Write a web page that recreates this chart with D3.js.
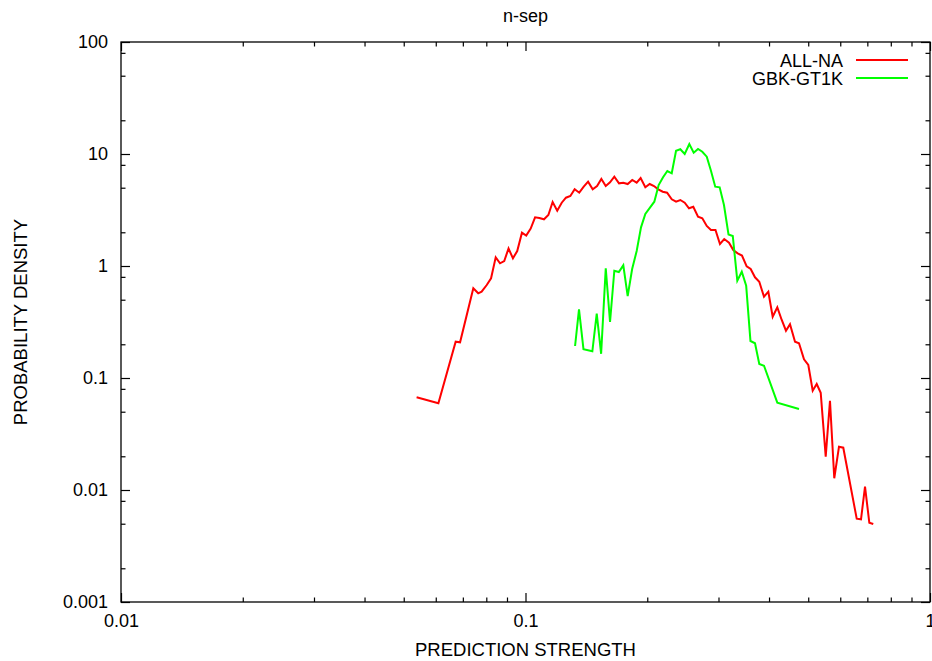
<!DOCTYPE html>
<html>
<head>
<meta charset="utf-8">
<script src="https://cdn.jsdelivr.net/npm/d3@7"></script>
<style>
  body { margin: 0; background: #fff; }
  svg { display: block; }
  text { font-family: "Liberation Sans", Arial, Helvetica, sans-serif; font-size: 18px; fill: #000; }
</style>
</head>
<body>
<div id="chart"></div>
<script>
const chartTitle = 'n-sep';
const xAxisTitle = 'PREDICTION STRENGTH';
const yAxisTitle = 'PROBABILITY DENSITY';

const xTickValues = [0.01, 0.1, 1];
const xTickLabels = ['0.01', '0.1', '1'];
const yTickValues = [0.001, 0.01, 0.1, 1, 10, 100];
const yTickLabels = ['0.001', '0.01', '0.1', '1', '10', '100'];
const xMinorTicks = [0.02, 0.03, 0.04, 0.05, 0.06, 0.07, 0.08, 0.09,
                     0.2, 0.3, 0.4, 0.5, 0.6, 0.7, 0.8, 0.9];
const yMinorTicks = [0.002, 0.005, 0.008, 0.02, 0.05, 0.08, 0.2, 0.5, 0.8,
                     2, 5, 8, 20, 50, 80];

const seriesNames = ['ALL-NA', 'GBK-GT1K'];

// [prediction strength, density]
const allNa = [
  [0.0538, 0.0672], [0.0609, 0.0594], [0.0672, 0.2109], [0.0689, 0.2083],
  [0.0743, 0.6324], [0.0764, 0.5704], [0.0779, 0.5894], [0.0802, 0.6767],
  [0.0822, 0.7767], [0.0844, 1.196], [0.0865, 1.057], [0.0886, 1.108],
  [0.0908, 1.433], [0.0931, 1.171], [0.0954, 1.361], [0.0980, 1.983],
  [0.1004, 1.872], [0.1030, 2.161], [0.1056, 2.721], [0.1082, 2.683],
  [0.1111, 2.612], [0.1139, 2.853], [0.1167, 3.727], [0.1198, 3.116],
  [0.1229, 3.674], [0.1259, 4.072], [0.1291, 4.217], [0.1323, 4.839],
  [0.1358, 4.512], [0.1393, 5.105], [0.1428, 5.657], [0.1466, 4.839],
  [0.1503, 5.179], [0.1540, 5.981], [0.1579, 5.179], [0.1618, 5.587],
  [0.1658, 6.270], [0.1703, 5.474], [0.1745, 5.541], [0.1789, 5.395],
  [0.1836, 5.860], [0.1883, 5.541], [0.1926, 6.105], [0.1978, 5.043],
  [0.2028, 5.395], [0.2078, 5.179], [0.2129, 4.839], [0.2184, 4.606],
  [0.2239, 4.512], [0.2299, 3.940], [0.2356, 3.751], [0.2414, 3.884],
  [0.2475, 3.674], [0.2536, 3.275], [0.2599, 3.384], [0.2670, 2.755],
  [0.2736, 2.667], [0.2806, 2.276], [0.2874, 2.096], [0.2949, 2.096],
  [0.3025, 1.572], [0.3100, 1.742], [0.3185, 1.614], [0.3263, 1.389],
  [0.3346, 1.298], [0.3429, 1.241], [0.3522, 0.994], [0.3603, 0.940],
  [0.3693, 0.7926], [0.3784, 0.7243], [0.3887, 0.5318], [0.3984, 0.5894],
  [0.4084, 0.3526], [0.4193, 0.4277], [0.4300, 0.3296], [0.4405, 0.2645],
  [0.4507, 0.3017], [0.4638, 0.2109], [0.4744, 0.2041], [0.4881, 0.1469],
  [0.5002, 0.1306], [0.5129, 0.0770], [0.5247, 0.0884], [0.5368, 0.0739],
  [0.5523, 0.01983], [0.5659, 0.0627], [0.5799, 0.01273], [0.5957, 0.02435],
  [0.6104, 0.02386], [0.6589, 0.005543], [0.6752, 0.005476], [0.6908, 0.01070],
  [0.7079, 0.005105], [0.7240, 0.004970]
];

const gbkGt1k = [
  [0.1326, 0.1931], [0.1356, 0.4105], [0.1391, 0.1808], [0.1463, 0.1731],
  [0.1500, 0.3751], [0.1538, 0.1645], [0.1579, 0.9539], [0.1618, 0.3162],
  [0.1658, 0.9078], [0.1701, 0.8839], [0.1745, 1.014], [0.1789, 0.5395],
  [0.1835, 0.9401], [0.1883, 1.361], [0.1930, 2.215], [0.1978, 2.913],
  [0.2031, 3.315], [0.2082, 3.751], [0.2134, 5.286], [0.2188, 6.194],
  [0.2242, 7.050], [0.2299, 6.725], [0.2356, 10.70], [0.2414, 11.02],
  [0.2475, 10.00], [0.2541, 12.28], [0.2605, 10.27], [0.2670, 11.08],
  [0.2736, 10.48], [0.2806, 9.46], [0.2874, 7.094], [0.2945, 5.105],
  [0.3020, 5.043], [0.3095, 3.504], [0.3176, 1.911], [0.3254, 1.853],
  [0.3339, 0.7393], [0.3425, 0.8893], [0.3512, 0.6656], [0.3599, 0.2140],
  [0.3693, 0.2041], [0.3784, 0.1334], [0.3887, 0.1288], [0.4193, 0.0602],
  [0.4744, 0.0529]
];

const width = 932;
const height = 661;
const margin = { top: 42, right: 2, bottom: 59, left: 121 };
const plotW = width - margin.left - margin.right;
const plotH = height - margin.top - margin.bottom;

const svg = d3.select('#chart').append('svg')
    .attr('width', width)
    .attr('height', height);

const x = d3.scaleLog().domain([0.01, 1]).range([0, plotW]);
const y = d3.scaleLog().domain([0.001, 100]).range([plotH, 0]);

const g = svg.append('g')
    .attr('transform', `translate(${margin.left},${margin.top})`);

// major ticks with labels (bottom, left), mirrored on top/right
g.append('g')
    .attr('transform', `translate(0,${plotH})`)
    .call(d3.axisBottom(x).tickValues(xTickValues)
        .tickFormat((d, i) => xTickLabels[i]).tickSize(-9).tickSizeOuter(0).tickPadding(12));
g.append('g')
    .call(d3.axisLeft(y).tickValues(yTickValues)
        .tickFormat((d, i) => yTickLabels[i]).tickSize(-9).tickSizeOuter(0).tickPadding(13));
g.append('g')
    .call(d3.axisTop(x).tickValues(xTickValues).tickFormat('').tickSize(-9).tickSizeOuter(0));
g.append('g')
    .attr('transform', `translate(${plotW},0)`)
    .call(d3.axisRight(y).tickValues(yTickValues).tickFormat('').tickSize(-9).tickSizeOuter(0));

// minor ticks
g.append('g')
    .attr('transform', `translate(0,${plotH})`)
    .call(d3.axisBottom(x).tickValues(xMinorTicks).tickFormat('').tickSize(-4.5).tickSizeOuter(0));
g.append('g')
    .call(d3.axisTop(x).tickValues(xMinorTicks).tickFormat('').tickSize(-4.5).tickSizeOuter(0));
g.append('g')
    .call(d3.axisLeft(y).tickValues(yMinorTicks).tickFormat('').tickSize(-4.5).tickSizeOuter(0));
g.append('g')
    .attr('transform', `translate(${plotW},0)`)
    .call(d3.axisRight(y).tickValues(yMinorTicks).tickFormat('').tickSize(-4.5).tickSizeOuter(0));

g.selectAll('.domain').remove();
g.selectAll('.tick line').attr('stroke', '#000').attr('stroke-width', 1.2);
g.selectAll('.tick text')
    .style('font-family', '"Liberation Sans", Arial, Helvetica, sans-serif')
    .style('font-size', '18px')
    .attr('fill', '#000');

g.append('rect')
    .attr('width', plotW)
    .attr('height', plotH)
    .attr('fill', 'none')
    .attr('stroke', '#000')
    .attr('stroke-width', 1.3);

// series
const line = d3.line()
    .x(d => x(d[0]))
    .y(d => y(d[1]));

const series = [
  { name: seriesNames[0], values: allNa, color: '#ff0000' },
  { name: seriesNames[1], values: gbkGt1k, color: '#00ff00' }
];

g.selectAll('.series')
    .data(series)
    .enter()
    .append('path')
    .attr('class', 'series')
    .attr('d', d => line(d.values))
    .attr('fill', 'none')
    .attr('stroke', d => d.color)
    .attr('stroke-width', 2)
    .attr('stroke-linejoin', 'miter');

// legend
const legend = svg.append('g');
series.forEach((s, i) => {
  const ly = 60 + i * 18;
  legend.append('text')
      .attr('x', 843)
      .attr('y', ly + 7)
      .attr('text-anchor', 'end')
      .text(s.name);
  legend.append('line')
      .attr('x1', 856).attr('x2', 908)
      .attr('y1', ly).attr('y2', ly)
      .attr('stroke', s.color)
      .attr('stroke-width', 2);
});

// titles
svg.append('text')
    .attr('x', margin.left + plotW / 2)
    .attr('y', 22)
    .attr('text-anchor', 'middle')
    .text(chartTitle);

svg.append('text')
    .attr('x', margin.left + plotW / 2)
    .attr('y', 656)
    .attr('text-anchor', 'middle')
    .style('font-size', '18.5px')
    .text(xAxisTitle);

svg.append('text')
    .attr('transform', `translate(27,${margin.top + plotH / 2}) rotate(-90)`)
    .attr('text-anchor', 'middle')
    .style('font-size', '18.5px')
    .text(yAxisTitle);
</script>
</body>
</html>
